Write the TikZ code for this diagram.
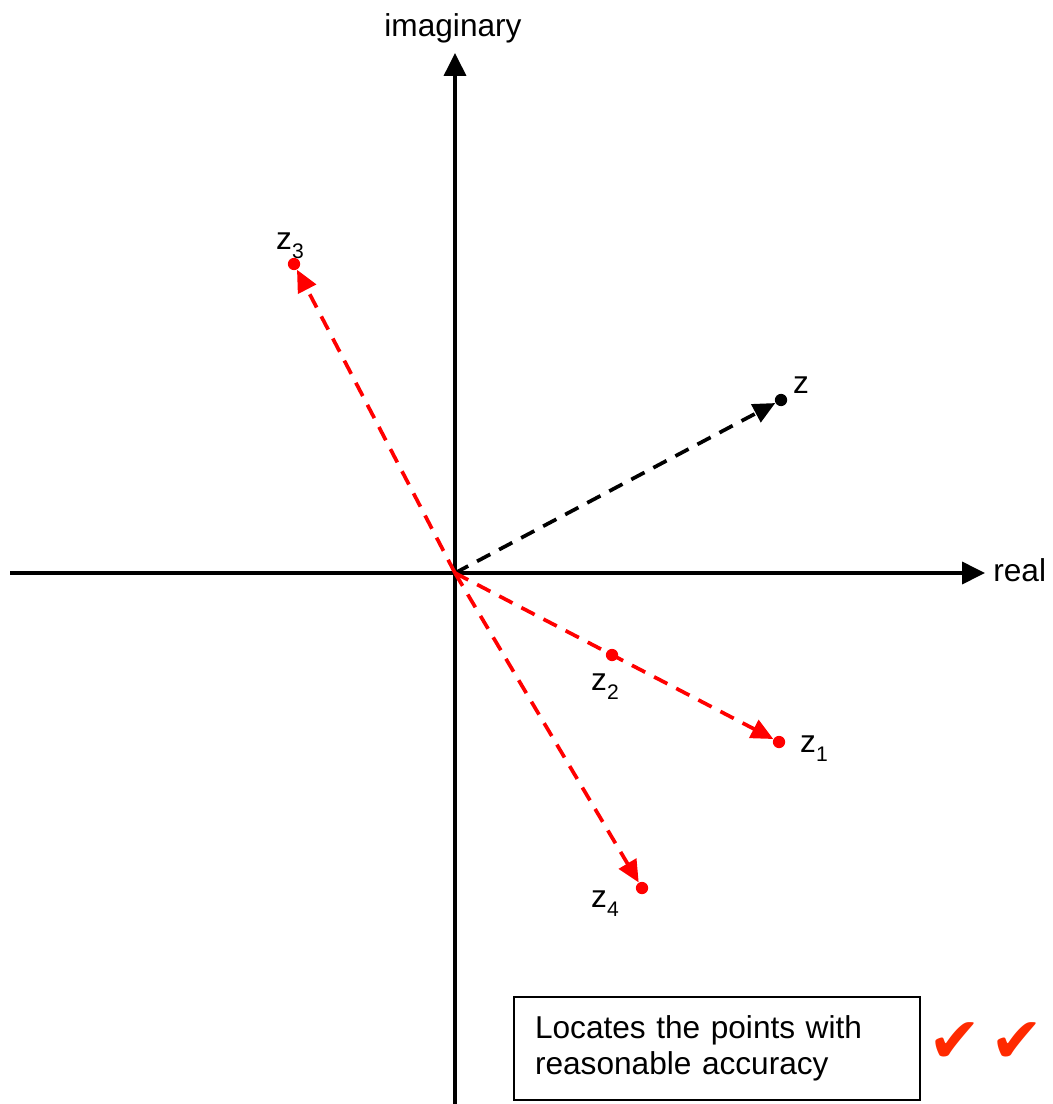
\documentclass[tikz,border=0pt]{standalone}
\usepackage{fontspec}
\setmainfont{Liberation Sans}
\newfontfamily\symfont{DejaVu Sans}
\usetikzlibrary{arrows.meta}
\definecolor{vecRed}{HTML}{FF0000}
\definecolor{tickRed}{HTML}{FF2A00}
\newcommand{\zsub}[1]{z\raisebox{-0.55ex}{\fontsize{12}{12}\selectfont #1}}
\tikzset{
  axisline/.style={line width=1.9pt, -{Triangle[length=13pt,width=12.5pt]}},
  vec/.style={line width=2.1pt, dash pattern=on 8.5pt off 5.7pt,
              -{Triangle[length=12.5pt,width=11.3pt]}},
  redvec/.style={vec, vecRed},
  dot/.style={circle, fill, inner sep=0pt, minimum size=7pt},
  lab/.style={font=\fontsize{18}{21}\selectfont, inner sep=0pt},
  markbox/.style={draw, line width=1.1pt, minimum width=8.12cm,
                  minimum height=2.06cm, text width=7.28cm, align=left,
                  font=\fontsize{18}{20.4}\selectfont, inner sep=0pt},
  checkmark/.style={font=\symfont\fontsize{36}{36}\selectfont, text=tickRed,
                    inner sep=0pt},
}

\begin{document}
\begin{tikzpicture}[x=0.02cm, y=-0.02cm]
  \useasboundingbox (0,0) rectangle (1052,1104);
  % axes
  \coordinate (O) at (455,573);
  \coordinate (xl) at (10,573);
  \coordinate (xr) at (985,573);
  \coordinate (yb) at (455,1104);
  \coordinate (yt) at (455,53);
  \draw[axisline] (xl) -- (xr);
  \draw[axisline] (yb) -- (yt);
  \node[lab] (imlab) at (453,28) {imaginary};
  \node[lab, anchor=west] (relab) at (993,570) {real};
  % points
  \node[dot] (z) at (781,400) {};
  \node[dot, vecRed] (z1) at (779,742) {};
  \node[dot, vecRed] (z2) at (612,655) {};
  \node[dot, vecRed] (z3) at (294,264) {};
  \node[dot, vecRed] (z4) at (642,888) {};
  % labels
  \node[lab] (zlab) at (801,385) {z};
  \node[lab] (z1lab) at (814,749) {\zsub{1}};
  \node[lab] (z2lab) at (605,687) {\zsub{2}};
  \node[lab] (z3lab) at (290,246) {\zsub{3}};
  \node[lab] (z4lab) at (605,904) {\zsub{4}};
  % vectors
  \draw[vec] (O) -- (z);
  \draw[redvec] (O) -- (z1);
  \draw[redvec] (O) -- (z3);
  \draw[redvec] (O) -- (z4);
  % mark scheme
  \node[markbox] (note) at (717,1048.5)
    {Locates the points with\\reasonable accuracy};
  \node[checkmark] (chk1) at (955,1043) {✔};
  \node[checkmark] (chk2) at (1017,1043) {✔};
\end{tikzpicture}
\end{document}
